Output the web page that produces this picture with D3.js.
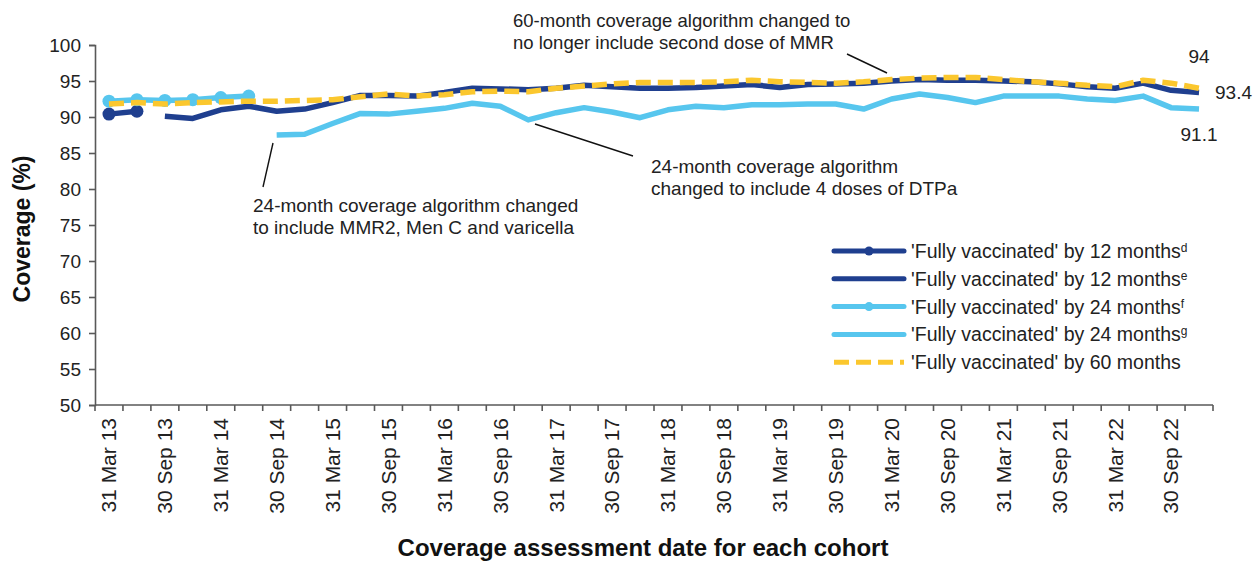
<!DOCTYPE html>
<html>
<head>
<meta charset="utf-8">
<script src="https://cdn.jsdelivr.net/npm/d3@7"></script>
<style>
  html, body { margin: 0; padding: 0; background: #fff; }
  svg { display: block; font-family: "Liberation Sans", Arial, sans-serif; }
</style>
</head>
<body>
<svg id="chart" width="1253" height="561"></svg>
<script>
// Quarterly assessment dates, 31 Mar 2013 to 31 Dec 2022
const months = ["Mar", "Jun", "Sep", "Dec"];
const days = ["31", "30", "30", "31"];
const quarters = [];
for (let y = 13; y <= 22; y++) {
  for (let q = 0; q < 4; q++) quarters.push(days[q] + " " + months[q] + " " + y);
}
// Only every second quarter carries a tick label
const tickLabels = quarters.filter((d, i) => i % 2 === 0);
const yTicks = [50, 55, 60, 65, 70, 75, 80, 85, 90, 95, 100];

// Coverage (%) by quarter; null = no value for that algorithm
const fully12d = [90.4, 90.8];
const fully12e = [null, null,
  90.1, 89.8, 91.0, 91.5, 90.8, 91.1, 92.0, 93.0, 93.0, 92.9,
  93.4, 94.0, 93.9, 93.8, 94.0, 94.4, 94.2, 94.0, 94.0, 94.1,
  94.3, 94.5, 94.1, 94.5, 94.6, 94.7, 95.0, 95.2, 95.1, 95.1,
  95.0, 94.9, 94.6, 94.2, 94.0, 94.7, 93.7, 93.4];
const fully24f = [92.2, 92.4, 92.3, 92.4, 92.7, 92.9];
const fully24g = [null, null, null, null, null, null,
  87.5, 87.6, 89.1, 90.5, 90.4, 90.8, 91.2, 91.9, 91.5, 89.6,
  90.6, 91.3, 90.7, 89.9, 91.0, 91.5, 91.3, 91.7, 91.7, 91.8,
  91.8, 91.1, 92.5, 93.2, 92.7, 92.0, 92.9, 92.9, 92.9, 92.5,
  92.3, 92.9, 91.3, 91.1];
const fully60 = [
  91.8, 92.0, 91.8, 92.0, 92.1, 92.2, 92.2, 92.3, 92.4, 92.8,
  93.2, 92.9, 93.1, 93.5, 93.6, 93.5, 94.0, 94.3, 94.6, 94.8,
  94.8, 94.8, 94.9, 95.1, 94.9, 94.8, 94.7, 94.9, 95.2, 95.4,
  95.5, 95.5, 95.2, 94.9, 94.7, 94.4, 94.2, 95.1, 94.7, 94.0];

const legendLabels = [
  ["'Fully vaccinated' by 12 months", "d"],
  ["'Fully vaccinated' by 12 months", "e"],
  ["'Fully vaccinated' by 24 months", "f"],
  ["'Fully vaccinated' by 24 months", "g"],
  ["'Fully vaccinated' by 60 months", ""]
];

const DARK = "#1f3f8f";
const LIGHT = "#57c6ee";
const GOLD = "#fbc72e";
const AXIS = "#595959";
const DASH = "15,7";

const svg = d3.select("#chart");
const m = { left: 95, right: 1213, top: 45, bottom: 405 };

const x = d3.scaleBand().domain(quarters).range([m.left, m.right]).paddingInner(0).paddingOuter(0);
const y = d3.scaleLinear().domain([50, 100]).range([m.bottom, m.top]);
const cx = i => x(quarters[i]) + x.bandwidth() / 2;

// Y axis
const yAxis = svg.append("g")
  .attr("transform", `translate(${m.left},0)`)
  .call(d3.axisLeft(y).tickValues(yTicks).tickSize(6).tickPadding(8));
yAxis.select(".domain").attr("stroke", AXIS).attr("stroke-width", 1.6);
yAxis.selectAll(".tick line").attr("stroke", AXIS).attr("stroke-width", 1.6);
yAxis.selectAll(".tick text")
  .attr("font-family", "Liberation Sans, Arial, sans-serif")
  .attr("font-size", 19).attr("fill", "#222");

// X axis: ticks on band boundaries, labels centred in every second band
const xg = svg.append("g");
xg.append("line")
  .attr("x1", m.left).attr("x2", m.right)
  .attr("y1", m.bottom).attr("y2", m.bottom)
  .attr("stroke", AXIS).attr("stroke-width", 1.6);
const boundaries = quarters.map(q => x(q)).concat([m.right]);
xg.selectAll("line.tk").data(boundaries).join("line")
  .attr("class", "tk")
  .attr("x1", d => d).attr("x2", d => d)
  .attr("y1", m.bottom).attr("y2", m.bottom + 6)
  .attr("stroke", AXIS).attr("stroke-width", 1.6);
xg.selectAll("text").data(tickLabels).join("text")
  .attr("transform", d => `translate(${x(d) + x.bandwidth() / 2},${m.bottom + 13}) rotate(-90)`)
  .attr("text-anchor", "end")
  .attr("dy", "0.35em")
  .attr("font-size", 21)
  .attr("fill", "#222")
  .text(d => d);

// Axis titles
svg.append("text")
  .attr("x", 643).attr("y", 556)
  .attr("text-anchor", "middle")
  .attr("font-size", 24).attr("font-weight", "bold").attr("fill", "#111")
  .text("Coverage assessment date for each cohort");
svg.append("text")
  .attr("transform", "translate(30,229) rotate(-90)")
  .attr("text-anchor", "middle")
  .attr("font-size", 23).attr("font-weight", "bold").attr("fill", "#111")
  .text("Coverage (%)");

// Series
const pts = arr => arr.map((v, i) => ({ i, v })).filter(d => d.v !== null);
const line = d3.line().x(d => cx(d.i)).y(d => y(d.v));

function drawSeries(arr, color, opts) {
  const data = pts(arr);
  svg.append("path").datum(data)
    .attr("d", line)
    .attr("fill", "none")
    .attr("stroke", color)
    .attr("stroke-width", 5.5)
    .attr("stroke-linejoin", "round")
    .attr("stroke-dasharray", opts.dash || null);
  if (opts.markers) {
    svg.append("g").selectAll("circle").data(data).join("circle")
      .attr("cx", d => cx(d.i)).attr("cy", d => y(d.v))
      .attr("r", 6.5).attr("fill", color);
  }
}

drawSeries(fully12d, DARK, { markers: true });
drawSeries(fully12e, DARK, {});
drawSeries(fully24f, LIGHT, { markers: true });
drawSeries(fully24g, LIGHT, {});
drawSeries(fully60, GOLD, { dash: DASH });

// End-of-series value labels
const last = arr => arr[arr.length - 1];
const li = quarters.length - 1;
svg.append("text").attr("x", cx(li)).attr("y", y(last(fully60)) - 25)
  .attr("text-anchor", "middle").attr("font-size", 19).attr("fill", "#222")
  .text(d3.format(".3~f")(last(fully60)));
svg.append("text").attr("x", cx(li) + 16).attr("y", y(last(fully12e)) + 6)
  .attr("text-anchor", "start").attr("font-size", 19).attr("fill", "#222")
  .text(d3.format(".1f")(last(fully12e)));
svg.append("text").attr("x", cx(li)).attr("y", y(last(fully24g)) + 32)
  .attr("text-anchor", "middle").attr("font-size", 19).attr("fill", "#222")
  .text(d3.format(".1f")(last(fully24g)));

// Annotations with leader lines
function note(lines, tx, ty, size, from, to) {
  const t = svg.append("text").attr("font-size", size).attr("fill", "#222");
  lines.forEach((s, k) => t.append("tspan").attr("x", tx).attr("y", ty + k * 22).text(s));
  svg.append("line")
    .attr("x1", from[0]).attr("y1", from[1]).attr("x2", to[0]).attr("y2", to[1])
    .attr("stroke", "#111").attr("stroke-width", 1.4);
}
note(["60-month coverage algorithm changed to", "no longer include second dose of MMR"],
  513, 27, 18.5, [847, 54], [887, 73]);
note(["24-month coverage algorithm", "changed to include 4 doses of DTPa"],
  651, 173, 19, [535, 124], [633, 156]);
note(["24-month coverage algorithm changed", "to include MMR2, Men C and varicella"],
  253, 212, 19, [273, 143], [263, 187]);

// Legend
const lg = svg.append("g");
const legendStyles = [
  { color: DARK, marker: true },
  { color: DARK, marker: false },
  { color: LIGHT, marker: true },
  { color: LIGHT, marker: false },
  { color: GOLD, marker: false, dash: DASH }
];
legendLabels.forEach((lab, k) => {
  const ry = 251 + k * 27.8;
  const st = legendStyles[k];
  lg.append("line")
    .attr("x1", 834).attr("x2", 904).attr("y1", ry).attr("y2", ry)
    .attr("stroke", st.color).attr("stroke-width", 5)
    .attr("stroke-linecap", st.dash ? "butt" : "round")
    .attr("stroke-dasharray", st.dash || null);
  if (st.marker) lg.append("circle").attr("cx", 869).attr("cy", ry).attr("r", 4.5).attr("fill", st.color);
  const t = lg.append("text").attr("x", 911).attr("y", ry + 7)
    .attr("font-size", 19.5).attr("fill", "#222");
  t.append("tspan").text(lab[0]);
  if (lab[1]) t.append("tspan").attr("dy", -6).attr("font-size", 12).text(lab[1]);
});
</script>
</body>
</html>
